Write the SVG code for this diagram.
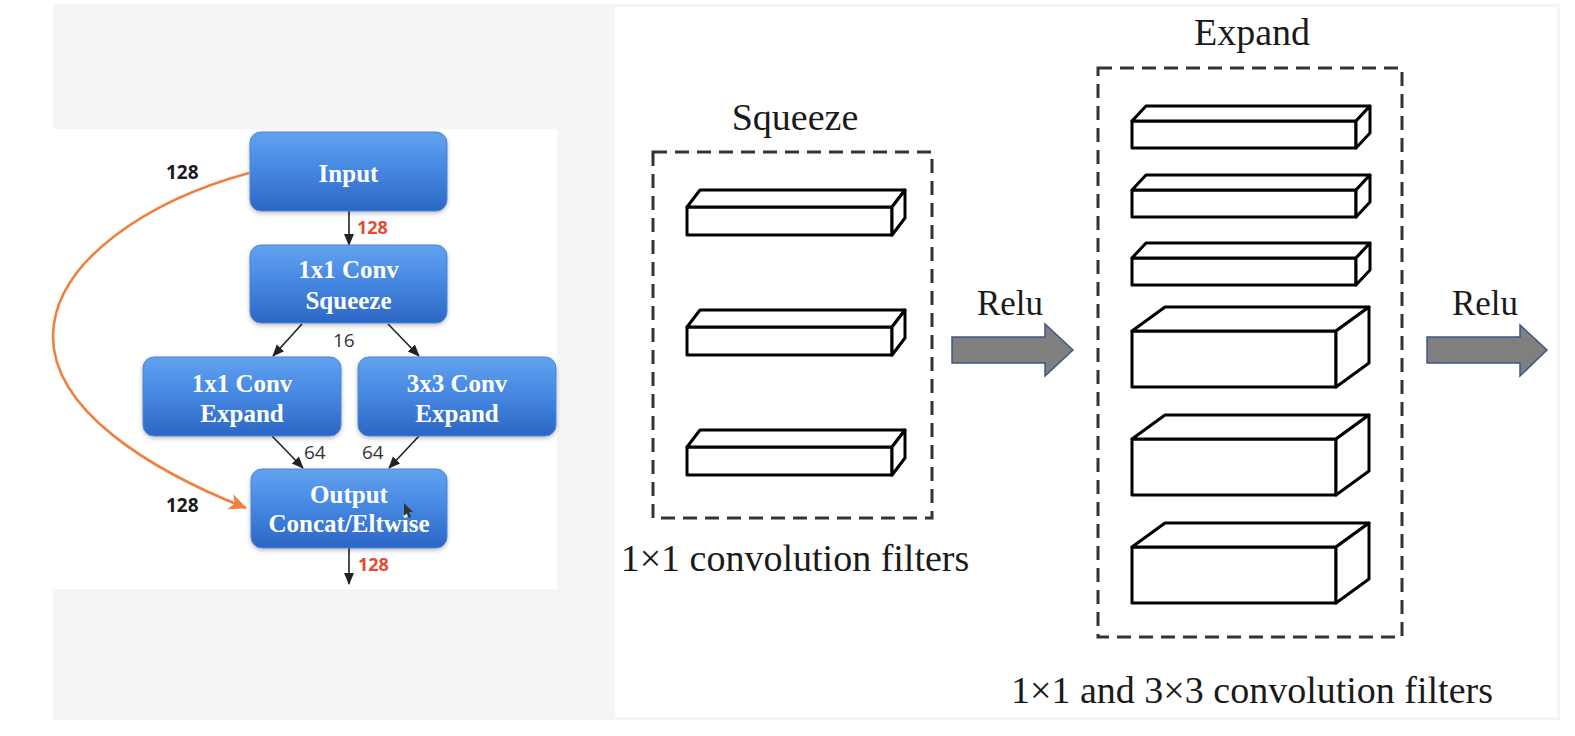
<svg xmlns="http://www.w3.org/2000/svg" width="1575" height="736" viewBox="0 0 1575 736">
<style>
.bx{fill:url(#blue);stroke:#4a84d8;stroke-width:1;filter:url(#sh)}
.bt{font-family:"Liberation Serif",serif;font-weight:bold;font-size:25px;fill:#ffffff;text-anchor:middle}
.num{font-family:"Open Sans","Liberation Sans",sans-serif;font-size:19px;fill:#333}
.numb{font-family:"Open Sans","Liberation Sans",sans-serif;font-weight:bold;font-size:19px;fill:#1a1a1a}
.numr{font-family:"Open Sans","Liberation Sans",sans-serif;font-weight:bold;font-size:18px;fill:#e34b32}
.ar{stroke:#222;stroke-width:1.6;fill:none;marker-end:url(#ah)}
.st{font-family:"Liberation Serif",serif;font-size:38px;fill:#1a1a1a;text-anchor:middle}
.relu{font-family:"Liberation Serif",serif;font-size:35px;fill:#1a1a1a;text-anchor:middle}
.dash{fill:none;stroke:#333;stroke-width:3;stroke-dasharray:14 8}
.bar path{fill:#fff;stroke:#000;stroke-width:3;stroke-linejoin:round}
.big{fill:#7f7f7f;stroke:#3e5888;stroke-width:1.5}
</style>
<defs>
<linearGradient id="blue" x1="0" y1="0" x2="0" y2="1">
<stop offset="0" stop-color="#62a2f0"/>
<stop offset="0.5" stop-color="#4486e0"/>
<stop offset="1" stop-color="#2c66c4"/>
</linearGradient>
<filter id="sh" x="-10%" y="-10%" width="120%" height="130%">
<feDropShadow dx="0" dy="2" stdDeviation="2" flood-color="#000" flood-opacity="0.25"/>
</filter>
<marker id="ah" markerUnits="userSpaceOnUse" markerWidth="12" markerHeight="12" viewBox="0 0 12 12" refX="11" refY="6" orient="auto">
<path d="M0,1 L12,6 L0,11 Z" fill="#222"/>
</marker>
<marker id="oh" markerUnits="userSpaceOnUse" markerWidth="18" markerHeight="16" viewBox="0 0 18 16" refX="17" refY="8" orient="auto">
<path d="M0,0 L18,8 L0,16 L5,8 Z" fill="#ee8140"/>
</marker>
</defs>
<rect width="1575" height="736" fill="#ffffff"/>
<rect x="53" y="4" width="1507" height="716" fill="#f5f4f7"/>
<rect x="53" y="129" width="504" height="460" fill="#ffffff"/>
<rect x="615" y="7" width="942" height="710" fill="#ffffff"/>

<g id="connectors">
<path d="M249,173 C150,200 55,260 53,335 C52,410 150,470 246,508" fill="none" stroke="#ee8140" stroke-width="2.6" marker-end="url(#oh)"/>
<line class="ar" x1="349" y1="211" x2="349" y2="245"/>
<line class="ar" x1="302" y1="324" x2="273" y2="356"/>
<line class="ar" x1="388" y1="324" x2="419" y2="356"/>
<line class="ar" x1="272" y1="436" x2="303" y2="468"/>
<line class="ar" x1="419" y1="436" x2="389" y2="468"/>
<line class="ar" x1="349" y1="548" x2="349" y2="584"/>
<text class="numb" x="166" y="179">128</text>
<text class="numb" x="166" y="512">128</text>
<text class="numr" x="357" y="234">128</text>
<text class="numr" x="358" y="571">128</text>
<text class="num" x="333" y="347">16</text>
<text class="num" x="304" y="459">64</text>
<text class="num" x="362" y="459">64</text>
</g>

<g id="input"><rect class="bx" x="250" y="132" width="197" height="79" rx="11"/><text class="bt" x="348.5" y="182">Input</text></g>
<g id="squeeze-conv"><rect class="bx" x="250" y="245" width="197" height="78" rx="11"/><text class="bt" x="348.5" y="278">1x1 Conv</text><text class="bt" x="348.5" y="309">Squeeze</text></g>
<g id="expand1"><rect class="bx" x="143" y="357" width="198" height="79" rx="11"/><text class="bt" x="242" y="392">1x1 Conv</text><text class="bt" x="242" y="422">Expand</text></g>
<g id="expand3"><rect class="bx" x="358" y="357" width="198" height="79" rx="11"/><text class="bt" x="457" y="392">3x3 Conv</text><text class="bt" x="457" y="422">Expand</text></g>
<g id="output"><rect class="bx" x="251" y="469" width="196" height="79" rx="11"/><text class="bt" x="349" y="503">Output</text><text class="bt" x="349" y="532">Concat/Eltwise</text>
<path d="M404,503 L404,516 L407,513 L409,518 L411,517 L409,512 L413,512 Z" fill="#333"/></g>

<g id="squeeze-panel">
<text class="st" x="795" y="130">Squeeze</text>
<rect class="dash" x="653" y="152" width="279" height="366"/>
<g class="bar">
<path d="M687,207 h205 v28 h-205 Z"/><path d="M687,207 l13,-17 h205 l-13,17 Z"/><path d="M892,207 l13,-17 v28 l-13,17 Z"/>
<path d="M687,327 h205 v28 h-205 Z"/><path d="M687,327 l13,-17 h205 l-13,17 Z"/><path d="M892,327 l13,-17 v28 l-13,17 Z"/>
<path d="M687,447 h205 v28 h-205 Z"/><path d="M687,447 l13,-17 h205 l-13,17 Z"/><path d="M892,447 l13,-17 v28 l-13,17 Z"/>
</g>
<text class="st" x="795" y="571">1×1 convolution filters</text>
</g>

<g id="relu1">
<text class="relu" x="1010" y="315">Relu</text>
<path class="big" d="M952,337 H1045 V324 L1073,350 L1045,376 V363 H952 Z"/>
</g>

<g id="expand-panel">
<text class="st" x="1252" y="45">Expand</text>
<rect class="dash" x="1098" y="68" width="304" height="569"/>
<g class="bar">
<path d="M1132,121 h224 v27 h-224 Z"/><path d="M1132,121 l14,-15 h224 l-14,15 Z"/><path d="M1356,121 l14,-15 v27 l-14,15 Z"/>
<path d="M1132,190 h224 v27 h-224 Z"/><path d="M1132,190 l14,-15 h224 l-14,15 Z"/><path d="M1356,190 l14,-15 v27 l-14,15 Z"/>
<path d="M1132,258 h224 v27 h-224 Z"/><path d="M1132,258 l14,-15 h224 l-14,15 Z"/><path d="M1356,258 l14,-15 v27 l-14,15 Z"/>
<path d="M1132,331 h204 v56 h-204 Z"/><path d="M1132,331 l33,-24 h204 l-33,24 Z"/><path d="M1336,331 l33,-24 v56 l-33,24 Z"/>
<path d="M1132,439 h204 v56 h-204 Z"/><path d="M1132,439 l33,-24 h204 l-33,24 Z"/><path d="M1336,439 l33,-24 v56 l-33,24 Z"/>
<path d="M1132,547 h204 v56 h-204 Z"/><path d="M1132,547 l33,-24 h204 l-33,24 Z"/><path d="M1336,547 l33,-24 v56 l-33,24 Z"/>
</g>
<text class="st" x="1252" y="703">1×1 and 3×3 convolution filters</text>
</g>

<g id="relu2">
<text class="relu" x="1485" y="315">Relu</text>
<path class="big" d="M1427,337 H1520 V325 L1547,350 L1520,376 V363 H1427 Z"/>
</g>
</svg>
